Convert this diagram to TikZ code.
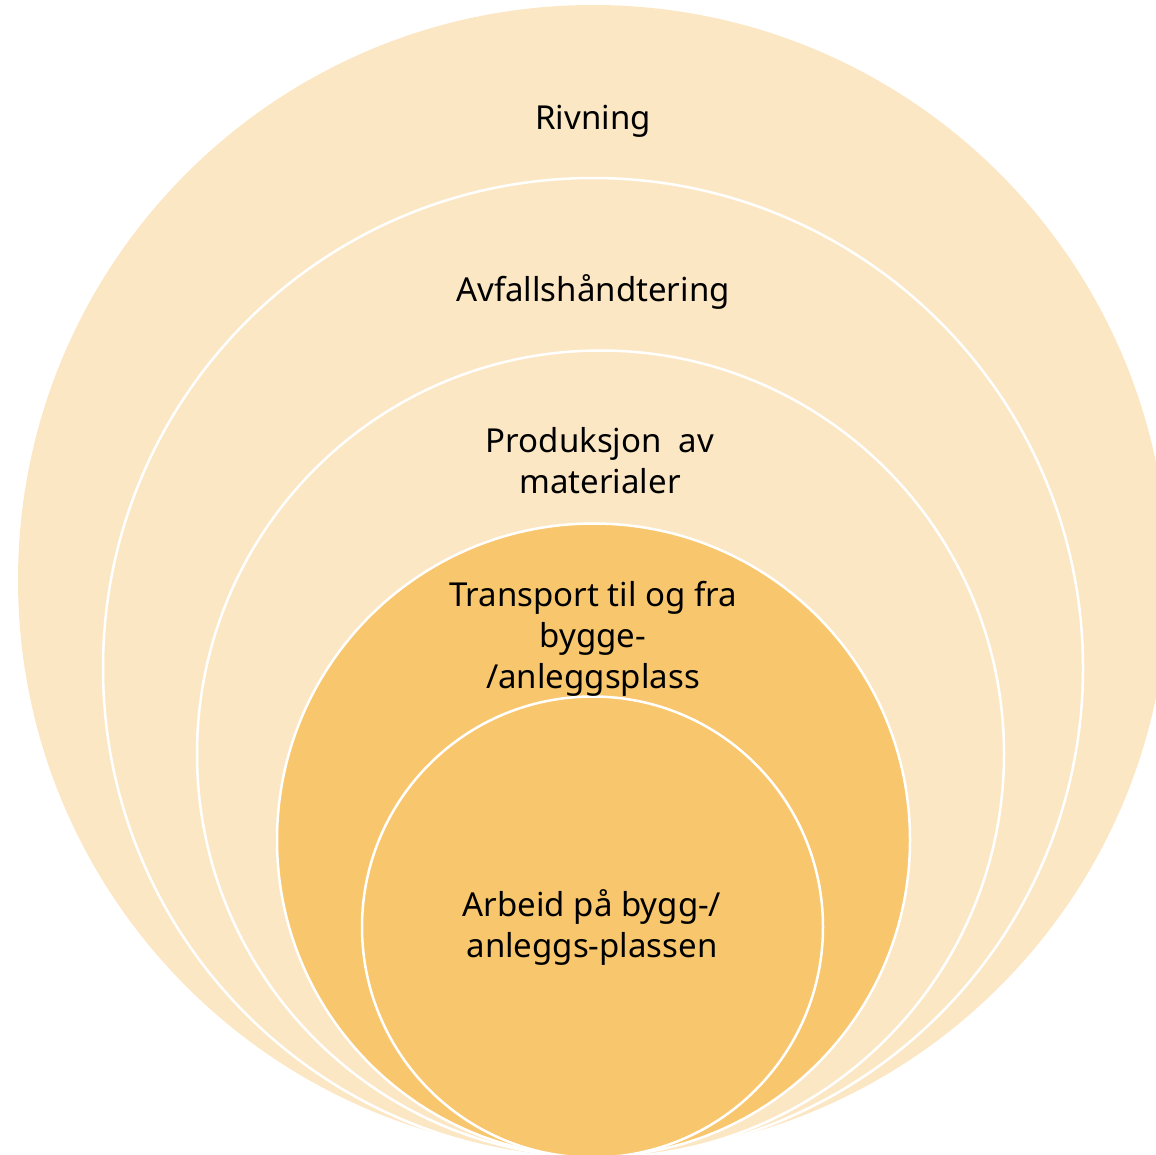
\documentclass[tikz,border=0pt]{standalone}
\usepackage{fontspec}
\setmainfont{Noto Sans}
\definecolor{lightfill}{HTML}{FCE7C4}
\definecolor{darkfill}{HTML}{F8C66D}
\begin{document}
\begin{tikzpicture}[x=1pt,y=-1pt,
  ring/.style={draw=white,line width=2.5pt},
  lbl/.style={align=center,font=\fontsize{33}{41}\selectfont,text=black,inner sep=0pt}]
\useasboundingbox (0,0) rectangle (1156,1154);
\clip (0,0) rectangle (1156,1154);
\fill[lightfill] (593,580) circle[radius=575];
\draw[ring,fill=lightfill] (593,668) circle[radius=490];
\draw[ring,fill=lightfill] (600.5,754) circle[radius=403.5];
\draw[ring,fill=darkfill] (593.5,840) circle[radius=316.5];
\draw[ring,fill=darkfill] (592.5,927) circle[radius=230.5];
\node[lbl] (rivning) at (593,121) {Rivning};
\node[lbl] (avfall) at (593,292) {Avfallshåndtering};
\node[lbl] (produksjon) at (600,461) {Produksjon~ av\\materialer};
\node[lbl] (transport) at (593,639) {Transport til og fra\\bygge-\\/anleggsplass};
\node[lbl] (arbeid) at (592,927) {Arbeid på bygg-/\\anleggs-plassen};
\end{tikzpicture}
\end{document}
